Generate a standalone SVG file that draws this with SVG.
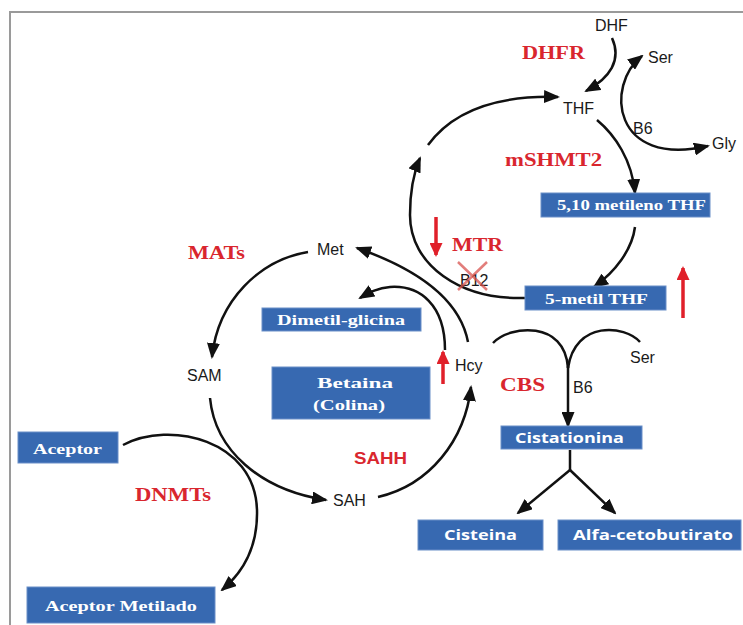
<svg xmlns="http://www.w3.org/2000/svg" width="743" height="625" viewBox="0 0 743 625">
<style>
.lbl{font-family:"Liberation Sans",Arial,sans-serif;font-size:16px;fill:#1a1a1a}
.enz{font-family:"Liberation Serif","Times New Roman",serif;font-size:18px;font-weight:bold;fill:#d9262e}
.enzs{font-family:"Liberation Sans",Arial,sans-serif;font-size:16px;font-weight:bold;fill:#d9262e}
.box rect{fill:#3769b1;stroke:#6a8fc8;stroke-width:1}
.bt{font-family:"Liberation Serif","Times New Roman",serif;font-size:15px;font-weight:bold;fill:#fff}
.bs{font-family:"Open Sans","Liberation Sans",Arial,sans-serif;font-size:15px;font-weight:bold;fill:#fff}
.c{fill:none;stroke:#111;stroke-width:2.5;marker-end:url(#ah)}
.cn{fill:none;stroke:#111;stroke-width:2.5}
.r{fill:none;stroke:#e0202a;stroke-width:3.5;marker-end:url(#rh)}
</style>
<defs>
<marker id="ah" viewBox="0 0 16 13" refX="14" refY="6.5" markerWidth="16" markerHeight="13" markerUnits="userSpaceOnUse" orient="auto-start-reverse">
<path d="M0,0 L16,6.5 L0,13 z" fill="#111"/>
</marker>
<marker id="rh" viewBox="0 0 14 13" refX="12" refY="6.5" markerWidth="14" markerHeight="13" markerUnits="userSpaceOnUse" orient="auto">
<path d="M0,0 L14,6.5 L0,13 z" fill="#e0202a"/>
</marker>
</defs>
<rect width="743" height="625" fill="#fff"/>
<path d="M10 625 L10 12 L743 12" fill="none" stroke="#9a9a9a" stroke-width="2"/>

<g id="connectors">
<path class="c" d="M612 38 C622 60 610 78 586 91"/>
<path class="c" style="marker-start:url(#ah)" d="M642 56 C605 85 612 168 708 146"/>
<path class="c" d="M428 145 C450 115 490 95 558 97"/>
<path class="c" d="M525 298 C460 300 410 265 410 215 C410 190 414 172 420 158"/>
<path class="c" d="M635 227 C632 250 615 272 594 287"/>
<path class="c" d="M597 120 C615 135 632 160 635 193"/>
<path class="c" d="M468 342 C460 300 420 270 357 248"/>
<path class="c" d="M445 350 C445 305 420 285 390 287 C378 288 370 292 360 298"/>
<path class="c" d="M308 252 C260 260 218 300 212 357"/>
<path class="c" d="M210 398 C215 450 260 490 326 500"/>
<path class="c" d="M378 497 C430 485 465 440 471 387"/>
<path class="c" d="M123 445 C170 420 255 440 257 510 C258 550 240 575 222 590"/>
<path class="cn" d="M493 343 C510 325 565 320 568 368"/>
<path class="cn" d="M640 342 C625 325 575 320 568 368"/>
<path class="c" d="M568 366 L568 426"/>
<path class="cn" d="M570 450 L570 470"/>
<path class="c" d="M570 470 L518 513"/>
<path class="c" d="M570 470 L615 513"/>
<path class="r" d="M436 217 L436 255"/>
<path class="r" d="M683 318 L683 268"/>
<path class="r" d="M443 384 L443 352"/>
</g>

<g id="DHF"><text class="lbl" x="595" y="31">DHF</text></g>
<g id="THF"><text class="lbl" x="563" y="114">THF</text></g>
<g id="Ser1"><text class="lbl" x="648" y="63">Ser</text></g>
<g id="Gly"><text class="lbl" x="712" y="149">Gly</text></g>
<g id="B6a"><text class="lbl" x="633" y="134">B6</text></g>
<g id="DHFR"><text class="enz" x="522" y="59" textLength="63" lengthAdjust="spacingAndGlyphs">DHFR</text></g>
<g id="mSHMT2"><text class="enz" x="505" y="166" textLength="97" lengthAdjust="spacingAndGlyphs">mSHMT2</text></g>
<g id="MTR"><text class="enz" x="452" y="251" textLength="51" lengthAdjust="spacingAndGlyphs">MTR</text></g>
<g id="B12">
<text class="lbl" x="460" y="286" font-size="14">B12</text>
<path d="M458 262 L487 290 M458 290 L487 262" stroke="#d9534f" stroke-width="2.5" opacity="0.75"/>
</g>
<g id="Met"><text class="lbl" x="317" y="255">Met</text></g>
<g id="MATs"><text class="enz" x="188" y="259" textLength="57" lengthAdjust="spacingAndGlyphs">MATs</text></g>
<g id="SAM"><text class="lbl" x="187" y="381">SAM</text></g>
<g id="Hcy"><text class="lbl" x="455" y="371">Hcy</text></g>
<g id="SAH"><text class="lbl" x="333" y="506">SAH</text></g>
<g id="SAHH"><text class="enzs" x="354" y="464" textLength="53" lengthAdjust="spacingAndGlyphs">SAHH</text></g>
<g id="DNMTs"><text class="enz" x="135" y="501" textLength="76" lengthAdjust="spacingAndGlyphs">DNMTs</text></g>
<g id="CBS"><text class="enz" x="500" y="391" textLength="45" lengthAdjust="spacingAndGlyphs">CBS</text></g>
<g id="B6b"><text class="lbl" x="573" y="393">B6</text></g>
<g id="Ser2"><text class="lbl" x="630" y="363">Ser</text></g>

<g id="n510" class="box"><rect x="541" y="193" width="169" height="24"/><text class="bt" x="557" y="210" textLength="149" lengthAdjust="spacingAndGlyphs">5,10 metileno THF</text></g>
<g id="n5metil" class="box"><rect x="525" y="286" width="141" height="24"/><text class="bt" x="545" y="304" textLength="103" lengthAdjust="spacingAndGlyphs">5-metil THF</text></g>
<g id="dimetil" class="box"><rect x="262" y="308" width="159" height="23"/><text class="bt" x="277" y="325" textLength="128" lengthAdjust="spacingAndGlyphs">Dimetil-glicina</text></g>
<g id="betaina" class="box"><rect x="272" y="367" width="158" height="52"/><text class="bt" x="317" y="388" textLength="76" lengthAdjust="spacingAndGlyphs">Betaina</text><text class="bt" x="313" y="410" textLength="72" lengthAdjust="spacingAndGlyphs">(Colina)</text></g>
<g id="aceptor" class="box"><rect x="18" y="432" width="100" height="31"/><text class="bt" x="33" y="454" textLength="69" lengthAdjust="spacingAndGlyphs">Aceptor</text></g>
<g id="aceptorMet" class="box"><rect x="27" y="587" width="188" height="36"/><text class="bt" x="45" y="611" textLength="152" lengthAdjust="spacingAndGlyphs">Aceptor Metilado</text></g>
<g id="cistationina" class="box"><rect x="501" y="426" width="141" height="23"/><text class="bs" x="515" y="443" textLength="109" lengthAdjust="spacingAndGlyphs">Cistationina</text></g>
<g id="cisteina" class="box"><rect x="418" y="520" width="125" height="30"/><text class="bs" x="444" y="540" textLength="73" lengthAdjust="spacingAndGlyphs">Cisteina</text></g>
<g id="alfa" class="box"><rect x="558" y="520" width="183" height="30"/><text class="bs" x="573" y="540" textLength="160" lengthAdjust="spacingAndGlyphs">Alfa-cetobutirato</text></g>
</svg>
